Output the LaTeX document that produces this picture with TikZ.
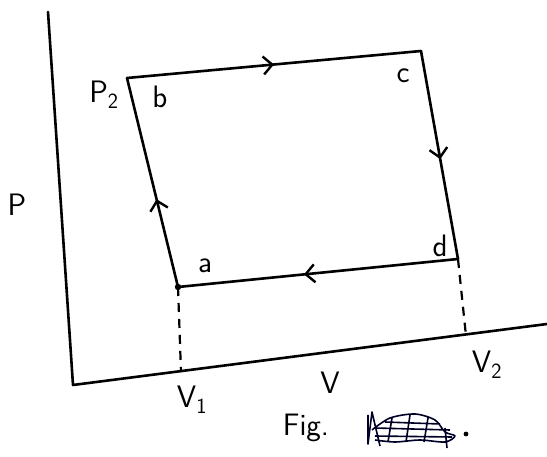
\documentclass[tikz,border=0pt]{standalone}
\usetikzlibrary{arrows.meta,decorations.markings}
\begin{document}
\begin{tikzpicture}[x=1pt,y=-1pt,
  ink/.style={line width=2.6pt,line cap=round,line join=round,black},
  guide/.style={line width=2.2pt,dash pattern=on 9pt off 7pt},
  lbl/.style={font=\sffamily\fontsize{31}{36}\selectfont,inner sep=0pt},
  midarrow/.style={postaction={decorate,decoration={markings,
     mark=at position #1 with {\arrow{Straight Barb[length=9pt,width=18pt,line width=2.4pt]}}}}}]
\useasboundingbox (0,0) rectangle (547,457);
% axes
\coordinate (ytop) at (48,12);
\coordinate (O) at (73,385);
\coordinate (xend) at (547,324);
\draw[ink] (ytop) -- (O) -- (xend);
% cycle corners
\coordinate (a) at (178,287);
\coordinate (b) at (127,78);
\coordinate (c) at (421,51);
\coordinate (d) at (458,259);
\coordinate (v1) at (181,372);
\coordinate (v2) at (466,336);
\draw[ink,midarrow=0.5] (b) -- (c);
\draw[ink,midarrow=0.52] (c) -- (d);
\draw[ink,midarrow=0.55] (d) -- (a);
\draw[ink,midarrow=0.42] (a) -- (b);
\fill (a) circle (3.2pt);
\draw[guide] (a) -- (v1);
\draw[guide] (d) -- (v2);
% labels
\node[lbl] (lP) at (17,205) {P};
\node[lbl] (lP2) at (104,95) {P\textsubscript{2}};
\node[lbl] (lb) at (160,97) {b};
\node[lbl] (lc) at (403,76) {c};
\node[lbl] (ld) at (440,246) {d};
\node[lbl] (la) at (205,266) {a};
\node[lbl] (lV1) at (192,400) {V\textsubscript{1}};
\node[lbl] (lV) at (330,383) {V};
\node[lbl] (lV2) at (487,365) {V\textsubscript{2}};
\node[lbl] (fig) at (306,428) {Fig.};
% scribbled-out word
\draw[line width=1.6pt,line join=round,black!85!blue]
  (368,415) -- (368,444) -- (372,412) -- (380,446)
  plot[smooth] coordinates {(372,430) (390,418) (415,414) (435,420) (445,432) (455,436) (445,442) (420,440) (395,442) (375,440)}
  (375,428) -- (450,430) (375,436) -- (452,437) (385,422) -- (440,424)
  (392,418) -- (388,442) (410,415) -- (406,442) (428,418) -- (424,442) (445,428) -- (447,448);
\fill (466,434) circle (2.4pt);
\end{tikzpicture}
\end{document}
